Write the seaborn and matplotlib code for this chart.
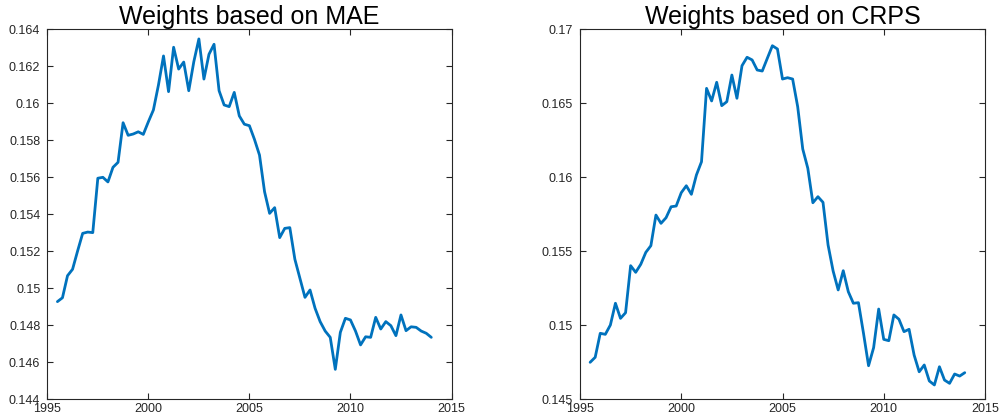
import numpy as np
import pandas as pd
import matplotlib
matplotlib.use("Agg")
import matplotlib.pyplot as plt
import seaborn as sns
from matplotlib.ticker import FormatStrFormatter

# Quarterly dates, 1995Q3 .. 2014Q1
quarters = 1995.5 + 0.25 * np.arange(75)

weights_mae = [
    0.14928, 0.14949, 0.15068, 0.15103, 0.15202, 0.15297, 0.15304, 0.15301,
    0.15595, 0.15600, 0.15575, 0.15654, 0.15681, 0.15895, 0.15827, 0.15834,
    0.15846, 0.15832, 0.15900, 0.15964, 0.16099, 0.16256, 0.16063, 0.16303,
    0.16185, 0.16223, 0.16068, 0.16225, 0.16348, 0.16131, 0.16265, 0.16319,
    0.16068, 0.15991, 0.15982, 0.16059, 0.15932, 0.15887, 0.15879, 0.15805,
    0.15720, 0.15522, 0.15405, 0.15436, 0.15274, 0.15324, 0.15328, 0.15157,
    0.15054, 0.14951, 0.14991, 0.14892, 0.14820, 0.14769, 0.14735, 0.14562,
    0.14762, 0.14838, 0.14829, 0.14769, 0.14694, 0.14738, 0.14735, 0.14843,
    0.14780, 0.14820, 0.14798, 0.14744, 0.14856, 0.14771, 0.14792, 0.14789,
    0.14769, 0.14757, 0.14735,
]

weights_crps = [
    0.14750, 0.14784, 0.14946, 0.14939, 0.15002, 0.15149, 0.15047, 0.15085,
    0.15403, 0.15358, 0.15412, 0.15493, 0.15538, 0.15745, 0.15689, 0.15727,
    0.15801, 0.15806, 0.15896, 0.15943, 0.15885, 0.16016, 0.16105, 0.16601,
    0.16516, 0.16642, 0.16484, 0.16511, 0.16691, 0.16534, 0.16754, 0.16811,
    0.16793, 0.16725, 0.16718, 0.16804, 0.16889, 0.16867, 0.16664, 0.16673,
    0.16664, 0.16477, 0.16191, 0.16061, 0.15828, 0.15869, 0.15831, 0.15543,
    0.15367, 0.15239, 0.15369, 0.15227, 0.15149, 0.15153, 0.14946, 0.14727,
    0.14849, 0.15110, 0.14905, 0.14896, 0.15070, 0.15041, 0.14957, 0.14973,
    0.14799, 0.14686, 0.14732, 0.14624, 0.14597, 0.14720, 0.14630, 0.14608,
    0.14671, 0.14657, 0.14680,
]

titles = ["Weights based on MAE", "Weights based on CRPS"]
x_ticks = [1995, 2000, 2005, 2010, 2015]
y_ticks_mae = [0.144, 0.146, 0.148, 0.150, 0.152, 0.154, 0.156, 0.158, 0.160, 0.162, 0.164]
y_ticks_crps = [0.145, 0.150, 0.155, 0.160, 0.165, 0.170]

sns.set_style("white")
plt.rcParams["font.family"] = ["Liberation Sans", "DejaVu Sans"]

fig = plt.figure(figsize=(10, 4.18), dpi=100)
ax_left = fig.add_axes([0.0473, 0.0447, 0.4042, 0.8852])
ax_right = fig.add_axes([0.580, 0.0447, 0.405, 0.8852])

line_color = "#0072BD"
axis_color = "#262626"

panels = [
    (ax_left, weights_mae, titles[0], y_ticks_mae),
    (ax_right, weights_crps, titles[1], y_ticks_crps),
]

for ax, series, title, yticks in panels:
    df = pd.DataFrame({"date": quarters, "weight": series})
    sns.lineplot(data=df, x="date", y="weight", ax=ax, color=line_color, linewidth=2.0)
    ax.set_xlim(x_ticks[0], x_ticks[-1])
    ax.set_ylim(yticks[0], yticks[-1])
    ax.set_xticks(x_ticks)
    ax.set_yticks(yticks)
    ax.yaxis.set_major_formatter(FormatStrFormatter("%g"))
    ax.set_xlabel("")
    ax.set_ylabel("")
    ax.set_title(title, fontsize=18, color="black", pad=4)
    for spine in ax.spines.values():
        spine.set_visible(True)
        spine.set_color(axis_color)
        spine.set_linewidth(0.8)
    ax.tick_params(axis="both", direction="in", length=4, width=0.8,
                   colors=axis_color, labelsize=9, top=True, right=True,
                   bottom=True, left=True, labeltop=False, labelright=False)
    ax.tick_params(axis="y", pad=5)
    ax.tick_params(axis="x", pad=3)
    ax.grid(False)

fig.savefig("out.png", dpi=100, facecolor="white")
